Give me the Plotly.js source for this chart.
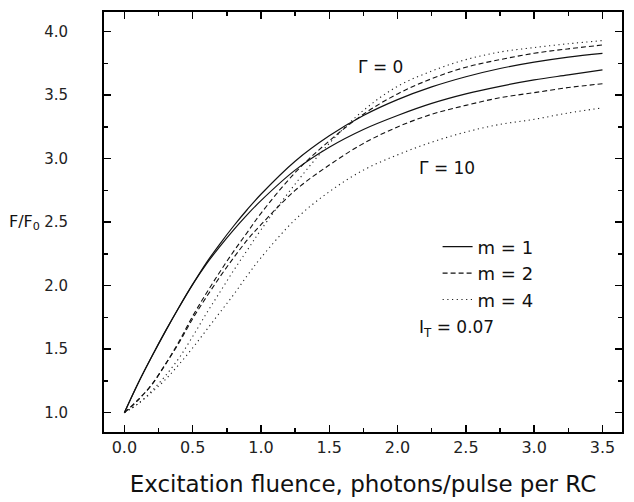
<!DOCTYPE html>
<html>
<head>
<meta charset="utf-8">
<script src="https://cdn.plot.ly/plotly-3.0.1.min.js"></script>
<style>html,body{margin:0;padding:0;background:#fff;}#chart{width:634px;height:502px;}</style>
</head>
<body>
<div id="chart"></div>
<script>
// Excitation fluence (photons/pulse per RC)
var fluence = [0, 0.1, 0.2, 0.3, 0.4, 0.5, 0.6, 0.7, 0.8, 0.9, 1.0, 1.25, 1.5, 1.75, 2.0, 2.25, 2.5, 2.75, 3.0, 3.25, 3.5];

// F/F0, Gamma = 0
var m1_g0 = [1.00, 1.23, 1.44, 1.64, 1.83, 2.01, 2.18, 2.33, 2.47, 2.60, 2.72, 2.98, 3.18, 3.34, 3.465, 3.565, 3.645, 3.71, 3.76, 3.80, 3.83];
var m2_g0 = [1.00, 1.10, 1.22, 1.38, 1.56, 1.76, 1.94, 2.11, 2.27, 2.42, 2.57, 2.89, 3.14, 3.35, 3.51, 3.63, 3.72, 3.78, 3.83, 3.865, 3.895];
var m4_g0 = [1.00, 1.07, 1.17, 1.29, 1.43, 1.60, 1.78, 1.95, 2.12, 2.28, 2.44, 2.80, 3.12, 3.38, 3.57, 3.69, 3.78, 3.84, 3.875, 3.905, 3.93];

// F/F0, Gamma = 10
var m1_g10 = [1.00, 1.23, 1.44, 1.64, 1.83, 2.01, 2.17, 2.31, 2.44, 2.56, 2.67, 2.91, 3.09, 3.23, 3.34, 3.435, 3.51, 3.57, 3.62, 3.66, 3.70];
var m2_g10 = [1.00, 1.10, 1.22, 1.38, 1.55, 1.74, 1.91, 2.07, 2.22, 2.36, 2.48, 2.75, 2.95, 3.12, 3.25, 3.35, 3.42, 3.48, 3.52, 3.56, 3.59];
var m4_g10 = [1.00, 1.07, 1.16, 1.26, 1.38, 1.51, 1.65, 1.79, 1.93, 2.08, 2.22, 2.52, 2.74, 2.91, 3.03, 3.13, 3.21, 3.27, 3.31, 3.36, 3.40];

var seriesNames = ["m = 1", "m = 2", "m = 4"];
var xTickVals = [0, 0.5, 1.0, 1.5, 2.0, 2.5, 3.0, 3.5];
var xTickLabels = ["0.0", "0.5", "1.0", "1.5", "2.0", "2.5", "3.0", "3.5"];
var yTickVals = [1.0, 1.5, 2.0, 2.5, 3.0, 3.5, 4.0];
var yTickLabels = ["1.0", "1.5", "2.0", "2.5", "3.0", "3.5", "4.0"];

var FONT = "DejaVu Sans, sans-serif";
var styles = [
  {color: "#111", width: 1.2, dash: "solid"},
  {color: "#111", width: 1.1, dash: "5px,3px"},
  {color: "#222", width: 1.1, dash: "1.2px,3.5px"}
];

var g0 = [m1_g0, m2_g0, m4_g0];
var g10 = [m1_g10, m2_g10, m4_g10];
var traces = [];
for (var i = 0; i < 3; i++) {
  traces.push({x: fluence, y: g0[i], mode: "lines", name: seriesNames[i], line: Object.assign({shape: "spline"}, styles[i]), showlegend: true, hoverinfo: "x+y"});
}
for (var j = 0; j < 3; j++) {
  traces.push({x: fluence, y: g10[j], mode: "lines", name: seriesNames[j], line: Object.assign({shape: "spline"}, styles[j]), showlegend: false, hoverinfo: "x+y"});
}

var axisCommon = {
  showline: true, linewidth: 2, linecolor: "#000", mirror: "allticks",
  ticks: "inside", ticklen: 7, tickwidth: 1.5, tickcolor: "#000",
  showgrid: false, zeroline: false
};

var ML = 104, MR = 12, W = 634;
var plotW = W - ML - MR;

var layout = {
  width: W, height: 502,
  margin: {l: ML, r: MR, t: 12, b: 70},
  paper_bgcolor: "#fff", plot_bgcolor: "#fff",
  font: {family: FONT, color: "#111"},
  showlegend: true,
  legend: {x: 0.644, y: 0.4845, xanchor: "left", yanchor: "top", tracegroupgap: 0, bgcolor: "rgba(0,0,0,0)", font: {family: FONT, size: 18, color: "#111"}, borderwidth: 0},
  xaxis: Object.assign({}, axisCommon, {
    range: [-0.149, 3.643], tickvals: xTickVals, ticktext: xTickLabels,
    tickfont: {family: FONT, size: 16, color: "#222"},
    minor: {ticks: "inside", ticklen: 4, tickwidth: 1.5, tickcolor: "#000", dtick: 0.25, tick0: 0},
    title: {text: "Excitation fluence, photons/pulse per RC", font: {family: FONT, size: 23, color: "#111"}, standoff: 20}
  }),
  yaxis: Object.assign({}, axisCommon, {
    range: [0.848, 4.155], tickvals: yTickVals, ticktext: yTickLabels, ticklabelstandoff: 31,
    tickfont: {family: FONT, size: 15, color: "#222"},
    minor: {ticks: "inside", ticklen: 4, tickwidth: 1.5, tickcolor: "#000", dtick: 0.25, tick0: 0}
  }),
  annotations: [
    {xref: "paper", yref: "paper", x: (24 - ML) / plotW, y: 0.5, xanchor: "center", yanchor: "middle", showarrow: false, text: "F/F<sub>0</sub>", font: {family: FONT, size: 16, color: "#111"}},
    {xref: "x", yref: "y", x: 1.872, y: 3.722, xanchor: "center", yanchor: "middle", showarrow: false, text: "Γ = 0", font: {family: FONT, size: 17, color: "#111"}},
    {xref: "x", yref: "y", x: 2.362, y: 2.93, xanchor: "center", yanchor: "middle", showarrow: false, text: "Γ = 10", font: {family: FONT, size: 17, color: "#111"}},
    {xref: "x", yref: "y", x: 2.143, y: 1.66, xanchor: "left", yanchor: "middle", showarrow: false, text: "I<sub>T</sub> = 0.07", font: {family: FONT, size: 17, color: "#111"}}
  ]
};

Plotly.newPlot("chart", traces, layout, {displayModeBar: false, staticPlot: true});
</script>
</body>
</html>
